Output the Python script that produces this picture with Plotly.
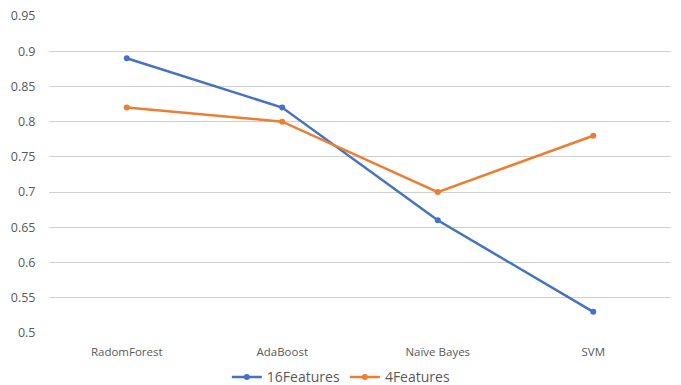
import plotly.graph_objects as go

models = ["RadomForest", "AdaBoost", "Naïve Bayes", "SVM"]
features_16 = [0.89, 0.82, 0.66, 0.53]
features_4 = [0.82, 0.80, 0.70, 0.78]
y_ticks = [0.5, 0.55, 0.6, 0.65, 0.7, 0.75, 0.8, 0.85, 0.9, 0.95]
y_tick_text = ["0.5", "0.55", "0.6", "0.65", "0.7", "0.75", "0.8", "0.85", "0.9", "0.95"]

BLUE = "#4472C4"
ORANGE = "#ED7D31"
TEXT = "#595959"

fig = go.Figure()
fig.add_trace(go.Scatter(
    x=models, y=features_16, name="16Features", mode="lines+markers",
    line=dict(color=BLUE, width=2.5), marker=dict(color=BLUE, size=6),
))
fig.add_trace(go.Scatter(
    x=models, y=features_4, name="4Features", mode="lines+markers",
    line=dict(color=ORANGE, width=2.5), marker=dict(color=ORANGE, size=6),
))

fig.update_layout(
    width=681, height=385,
    margin=dict(l=49, r=10, t=16, b=52),
    paper_bgcolor="white", plot_bgcolor="white",
    font=dict(family="Open Sans, Liberation Sans, sans-serif", size=12, color=TEXT),
    showlegend=True,
    legend=dict(
        orientation="h", x=0.47, xanchor="center",
        yref="container", y=0.02, yanchor="middle",
        font=dict(size=14, color=TEXT), itemwidth=30, tracegroupgap=0,
    ),
    xaxis=dict(
        type="category", range=[-0.5, 3.5], showgrid=False, zeroline=False,
        showline=False, ticks="outside", ticklen=8, tickcolor="rgba(0,0,0,0)",
        tickfont=dict(size=11.5, color=TEXT), automargin=False,
    ),
    yaxis=dict(
        range=[0.5, 0.95], tickvals=y_ticks, ticktext=y_tick_text,
        showgrid=True, gridcolor="#D0D0D0", gridwidth=1, zeroline=False,
        showline=False, ticks="outside", ticklen=10, tickcolor="rgba(0,0,0,0)",
        tickfont=dict(size=12.5, color=TEXT), automargin=False,
    ),
)

fig.write_html("out.html")
